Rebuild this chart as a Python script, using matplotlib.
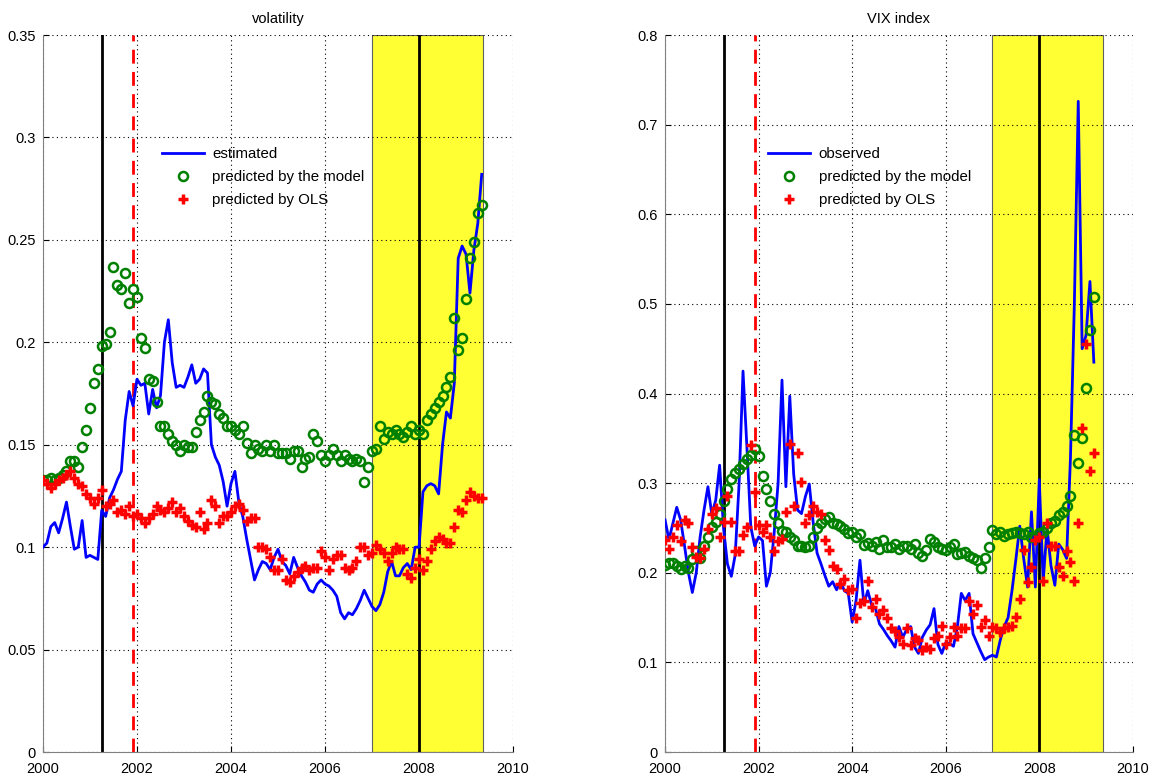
import matplotlib
matplotlib.use("Agg")
import matplotlib.pyplot as plt
import numpy as np
from matplotlib.ticker import FormatStrFormatter

plt.rcParams['font.family'] = ['Liberation Sans', 'DejaVu Sans']

# monthly values, first point Jan 2000
vol_estimated = [
    0.100, 0.102, 0.110, 0.112, 0.107, 0.114, 0.122, 0.110, 0.099, 0.100,
    0.113, 0.095, 0.096, 0.095, 0.094, 0.118, 0.115, 0.124, 0.128, 0.133,
    0.137, 0.162, 0.176, 0.169, 0.182, 0.179, 0.180, 0.165, 0.177, 0.168,
    0.174, 0.200, 0.211, 0.190, 0.178, 0.179, 0.178, 0.183, 0.189, 0.180,
    0.182, 0.187, 0.185, 0.150, 0.144, 0.140, 0.132, 0.120, 0.131, 0.137,
    0.122, 0.115, 0.104, 0.094, 0.084, 0.089, 0.093, 0.092, 0.089, 0.095,
    0.099, 0.093, 0.091, 0.087, 0.095, 0.090, 0.086, 0.083, 0.079, 0.078,
    0.082, 0.084, 0.082, 0.081, 0.079, 0.076, 0.068, 0.065, 0.068, 0.067,
    0.070, 0.074, 0.079, 0.075, 0.071, 0.069, 0.072, 0.078, 0.088, 0.093,
    0.086, 0.086, 0.090, 0.092, 0.089, 0.100, 0.100, 0.127, 0.130, 0.131,
    0.130, 0.126, 0.150, 0.166, 0.163, 0.180, 0.241, 0.247, 0.243, 0.224,
    0.245, 0.258, 0.282]
vol_model = [
    0.133, 0.133, 0.134, 0.133, 0.134, 0.135, 0.137, 0.142, 0.142, 0.139,
    0.149, 0.157, 0.168, 0.180, 0.187, 0.198, 0.199, 0.205, 0.237, 0.228,
    0.226, 0.234, 0.219, 0.226, 0.222, 0.202, 0.197, 0.182, 0.181, 0.171,
    0.159, 0.159, 0.155, 0.152, 0.150, 0.147, 0.150, 0.149, 0.149, 0.156,
    0.162, 0.166, 0.174, 0.171, 0.170, 0.165, 0.163, 0.159, 0.159, 0.157,
    0.155, 0.159, 0.151, 0.146, 0.150, 0.148, 0.147, 0.150, 0.147, 0.150,
    0.146, 0.146, 0.146, 0.143, 0.147, 0.147, 0.139, 0.143, 0.144, 0.155,
    0.152, 0.145, 0.142, 0.145, 0.148, 0.145, 0.142, 0.145, 0.143, 0.142,
    0.143, 0.142, 0.132, 0.139, 0.147, 0.148, 0.159, 0.153, 0.156, 0.155,
    0.157, 0.155, 0.154, 0.156, 0.159, 0.155, 0.157, 0.155, 0.162, 0.165,
    0.168, 0.171, 0.174, 0.178, 0.183, 0.212, 0.196, 0.202, 0.221, 0.241,
    0.249, 0.263, 0.267]
vol_ols = [
    0.133, 0.131, 0.129, 0.131, 0.133, 0.134, 0.135, 0.137, 0.134, 0.131,
    0.130, 0.126, 0.124, 0.121, 0.124, 0.128, 0.120, 0.121, 0.123, 0.117,
    0.118, 0.116, 0.120, 0.115, 0.116, 0.114, 0.112, 0.114, 0.116, 0.120,
    0.118, 0.117, 0.119, 0.122, 0.117, 0.119, 0.115, 0.113, 0.111, 0.110,
    0.117, 0.109, 0.112, 0.123, 0.120, 0.112, 0.115, 0.115, 0.117, 0.120,
    0.121, 0.118, 0.113, 0.114, 0.114, 0.100, 0.100, 0.099, 0.095, 0.089,
    0.089, 0.094, 0.084, 0.083, 0.086, 0.088, 0.090, 0.091, 0.089, 0.090,
    0.090, 0.098, 0.095, 0.089, 0.094, 0.096, 0.096, 0.090, 0.089, 0.090,
    0.093, 0.100, 0.100, 0.096, 0.097, 0.101, 0.099, 0.097, 0.093, 0.097,
    0.100, 0.099, 0.099, 0.087, 0.085, 0.090, 0.094, 0.089, 0.093, 0.099,
    0.103, 0.105, 0.104, 0.102, 0.102, 0.110, 0.118, 0.117, 0.123, 0.127,
    0.125, 0.124, 0.124]

vix_observed = [
    0.259, 0.237, 0.255, 0.273, 0.259, 0.230, 0.200, 0.178, 0.200, 0.240,
    0.270, 0.296, 0.265, 0.281, 0.320, 0.250, 0.210, 0.196, 0.220, 0.300,
    0.425, 0.340, 0.251, 0.230, 0.240, 0.236, 0.185, 0.200, 0.245, 0.300,
    0.415, 0.296, 0.397, 0.310, 0.270, 0.266, 0.285, 0.299, 0.256, 0.222,
    0.210, 0.197, 0.185, 0.190, 0.181, 0.190, 0.180, 0.177, 0.145, 0.169,
    0.214, 0.165, 0.180, 0.164, 0.160, 0.143, 0.137, 0.130, 0.124, 0.117,
    0.140, 0.128, 0.137, 0.140, 0.117, 0.110, 0.128, 0.136, 0.142, 0.160,
    0.120, 0.110, 0.122, 0.121, 0.118, 0.140, 0.177, 0.169, 0.177, 0.132,
    0.122, 0.112, 0.103, 0.106, 0.108, 0.106, 0.125, 0.140, 0.150, 0.180,
    0.215, 0.252, 0.216, 0.184, 0.268, 0.184, 0.304, 0.190, 0.250, 0.208,
    0.186, 0.232, 0.226, 0.216, 0.328, 0.500, 0.726, 0.450, 0.465, 0.525,
    0.435]
vix_model = [
    0.209, 0.211, 0.211, 0.208, 0.204, 0.207, 0.205, 0.215, 0.224, 0.216,
    0.230, 0.240, 0.251, 0.257, 0.266, 0.280, 0.294, 0.305, 0.311, 0.316,
    0.321, 0.327, 0.331, 0.338, 0.330, 0.308, 0.293, 0.280, 0.266, 0.255,
    0.247, 0.245, 0.240, 0.236, 0.230, 0.230, 0.229, 0.230, 0.240, 0.250,
    0.256, 0.260, 0.262, 0.256, 0.254, 0.252, 0.249, 0.244, 0.245, 0.240,
    0.243, 0.231, 0.233, 0.230, 0.234, 0.227, 0.236, 0.229, 0.229, 0.232,
    0.227, 0.230, 0.230, 0.227, 0.232, 0.222, 0.219, 0.225, 0.238, 0.234,
    0.229, 0.227, 0.225, 0.229, 0.232, 0.221, 0.222, 0.223, 0.219, 0.217,
    0.214, 0.205, 0.216, 0.229, 0.248, 0.243, 0.245, 0.241, 0.243, 0.244,
    0.245, 0.244, 0.243, 0.246, 0.240, 0.240, 0.244, 0.246, 0.250, 0.255,
    0.258, 0.264, 0.268, 0.274, 0.286, 0.354, 0.322, 0.350, 0.406, 0.471,
    0.508]
vix_ols = [
    0.237, 0.227, 0.240, 0.253, 0.235, 0.259, 0.255, 0.229, 0.218, 0.216,
    0.227, 0.249, 0.266, 0.272, 0.240, 0.257, 0.286, 0.257, 0.224, 0.224,
    0.242, 0.251, 0.342, 0.290, 0.253, 0.246, 0.253, 0.240, 0.224, 0.235,
    0.238, 0.268, 0.344, 0.275, 0.334, 0.301, 0.255, 0.264, 0.275, 0.268,
    0.266, 0.237, 0.225, 0.208, 0.204, 0.188, 0.193, 0.181, 0.182, 0.149,
    0.166, 0.169, 0.191, 0.162, 0.171, 0.154, 0.158, 0.149, 0.138, 0.135,
    0.128, 0.121, 0.138, 0.119, 0.127, 0.125, 0.114, 0.117, 0.115, 0.127,
    0.130, 0.141, 0.121, 0.128, 0.140, 0.130, 0.138, 0.138, 0.169, 0.154,
    0.164, 0.140, 0.147, 0.130, 0.140, 0.138, 0.134, 0.138, 0.140, 0.141,
    0.151, 0.171, 0.225, 0.190, 0.206, 0.237, 0.240, 0.191, 0.256, 0.230,
    0.230, 0.206, 0.196, 0.224, 0.212, 0.191, 0.256, 0.362, 0.455, 0.314,
    0.334]

recession_start = [2001.25, 2008.0]
recession_end = 2001.92
shade_span = (2007.0, 2009.37)

t_vol = 2000 + np.arange(len(vol_estimated)) / 12.0
t_vix = 2000 + np.arange(len(vix_observed)) / 12.0

fig = plt.figure(figsize=(11.55, 7.78), dpi=100)
ax1 = fig.add_axes([0.0372, 0.0334, 0.407, 0.9216])
ax2 = fig.add_axes([0.5758, 0.0334, 0.405, 0.9216])

panels = [
    (ax1, t_vol, vol_estimated, vol_model, vol_ols, 'estimated', 'volatility', 0.35, 0.05),
    (ax2, t_vix, vix_observed, vix_model, vix_ols, 'observed', 'VIX index', 0.8, 0.1),
]

for ax, t, main, model, ols, main_label, title, ymax, ystep in panels:
    ax.set_axisbelow('line')
    ax.axvspan(shade_span[0], shade_span[1], facecolor='#ffff33',
               edgecolor='#606060', linewidth=0.8, zorder=1)
    for x in recession_start:
        ax.axvline(x, color='black', linewidth=2, zorder=2)
    ax.axvline(recession_end, color='red', linewidth=2, linestyle=(0, (5, 3)), zorder=2)

    ax.plot(t, main, color='blue', linewidth=2, label=main_label, zorder=3)
    ax.plot(t, model, linestyle='none', marker='o', markersize=6.5,
            markerfacecolor='none', markeredgecolor='green', markeredgewidth=1.8,
            label='predicted by the model', zorder=4)
    ax.plot(t, ols, linestyle='none', marker='+', markersize=7.5,
            color='red', markeredgewidth=2.5, label='predicted by OLS', zorder=5)

    ax.set_xlim(2000, 2010)
    ax.set_ylim(0, ymax)
    ax.set_xticks(np.arange(2000, 2011, 2))
    ax.set_yticks(np.arange(0, ymax + ystep / 2, ystep))
    ax.yaxis.set_major_formatter(FormatStrFormatter('%g'))
    ax.grid(True, linestyle=(0, (1, 3)), color='black', linewidth=0.8)
    for side in ['top', 'right']:
        ax.spines[side].set_visible(False)
    for side in ['left', 'bottom']:
        ax.spines[side].set_color('#808080')
    ax.tick_params(direction='in', length=4, labelsize=10.5, colors='black')
    ax.tick_params(axis='x', pad=7)
    ax.tick_params(axis='y', pad=5)
    ax.set_title(title, fontsize=10.5, pad=9)

ax1.legend(loc='upper left', bbox_to_anchor=(0.225, 0.862), frameon=False,
           fontsize=10.8, handlelength=2.8, handletextpad=0.55, labelspacing=0.6)
ax2.legend(loc='upper left', bbox_to_anchor=(0.192, 0.862), frameon=False,
           fontsize=10.8, handlelength=2.8, handletextpad=0.55, labelspacing=0.6)

fig.savefig('out.png', dpi=100)
